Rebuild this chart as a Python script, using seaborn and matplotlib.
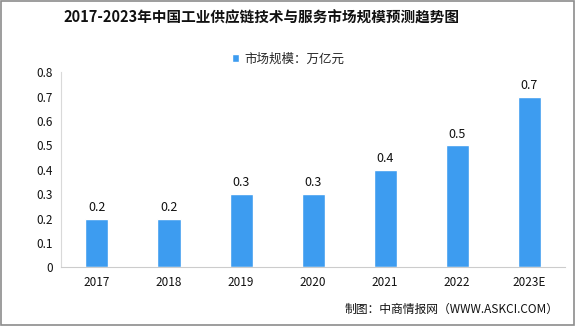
import matplotlib
matplotlib.use("Agg")
import matplotlib.pyplot as plt
import seaborn as sns
import pandas as pd
import numpy as np
from matplotlib.patches import Rectangle

years = ["2017", "2018", "2019", "2020", "2021", "2022", "2023E"]
values = [0.2, 0.2, 0.3, 0.3, 0.4, 0.5, 0.7]
labels = ["0.2", "0.2", "0.3", "0.3", "0.4", "0.5", "0.7"]
yticks = [0, 0.1, 0.2, 0.3, 0.4, 0.5, 0.6, 0.7, 0.8]
ytick_labels = ["0", "0.1", "0.2", "0.3", "0.4", "0.5", "0.6", "0.7", "0.8"]
title = "2017-2023年中国工业供应链技术与服务市场规模预测趋势图"
legend_label = "市场规模：万亿元"
source = "制图：中商情报网（WWW.ASKCI.COM）"

sns.set_theme(style="white")
plt.rcParams['font.family'] = ['Noto Sans CJK SC', 'DejaVu Sans']

df = pd.DataFrame({"year": years, "value": values})
color = "#3D9CF0"

fig = plt.figure(figsize=(5.75, 3.26), dpi=100)
ax = fig.add_axes([0.106, 0.180, 0.877, 0.598])
sns.barplot(data=df, x="year", y="value", color=color, width=0.32,
            saturation=1, ax=ax, label=legend_label)

ax.set_ylim(0, 0.8)
ax.set_xlim(-0.5, len(years) - 0.5)
ax.set_yticks(yticks)
ax.set_yticklabels(ytick_labels, fontsize=8.5, color="#111111")
ax.set_xticks(range(len(years)))
ax.set_xticklabels(years, fontsize=8.5, color="#111111")
ax.set_xlabel("")
ax.set_ylabel("")
ax.tick_params(axis="both", which="major", length=0, pad=6)
ax.set_xticks(np.arange(-0.5, len(years), 1.0), minor=True)
ax.tick_params(axis="x", which="minor", length=4, color="#cccccc", width=0.8)
for s in ["top", "right"]:
    ax.spines[s].set_visible(False)
ax.spines["left"].set_color("#d9d9d9")
ax.spines["bottom"].set_color("#cccccc")
ax.spines["left"].set_linewidth(0.8)
ax.spines["bottom"].set_linewidth(0.8)

for i, (v, t) in enumerate(zip(values, labels)):
    ax.text(i, v + 0.02, t, ha="center", va="bottom", fontsize=9, color="#111111")

leg = ax.legend(loc="upper center", bbox_to_anchor=(0.45, 1.16), frameon=False,
                fontsize=9, handlelength=0.6, handleheight=0.6, handletextpad=0.4)

fig.text(0.454, 0.945, title, ha="center", va="center", fontsize=10.5,
         fontweight="bold", color="#111111")
fig.text(0.972, 0.05, source, ha="right", va="center", fontsize=8.5, color="#111111")

fig.patches.append(Rectangle((0.001, 0.002), 0.997, 0.995, transform=fig.transFigure,
                             fill=False, edgecolor="#8c8c8c", linewidth=1.2))

fig.savefig("out.png", dpi=100)
